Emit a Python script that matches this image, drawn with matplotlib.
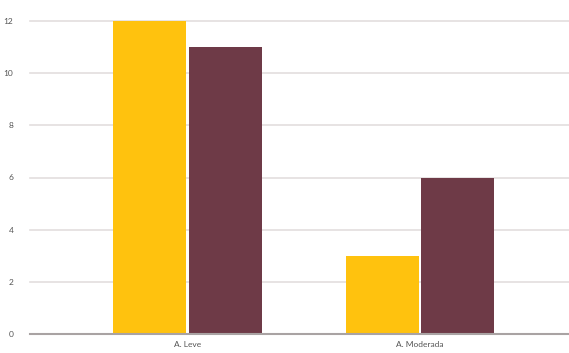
import numpy as np
import matplotlib.pyplot as plt

# Data
categories = ["A. Leve", "A. Moderada"]
serie_a = [12, 3]
serie_b = [11, 6]
yticks = [0, 2, 4, 6, 8, 10, 12]

plt.rcParams['font.family'] = ['Lato', 'DejaVu Sans']

fig = plt.figure(figsize=(5.69, 3.53), dpi=100)
ax = fig.add_axes([30 / 569, 19 / 353, 539 / 569, 313 / 353])

x = np.arange(len(categories))
w = 0.314
ax.bar(x - w / 2 - 0.006, serie_a, width=w, color="#FFC20E", zorder=3)
ax.bar(x + w / 2 + 0.006, serie_b, width=w, color="#6E3A47", zorder=3)

ax.set_xlim(-0.677, 1.641)
ax.set_ylim(0, 12)
ax.set_yticks(yticks)
ax.set_xticks(x)
ax.set_xticklabels(categories)

ax.grid(axis="y", color="#e3dede", linewidth=1.2, zorder=0)
for s in ["top", "right", "left"]:
    ax.spines[s].set_visible(False)
ax.spines["bottom"].set_color("#a9a3a3")
ax.spines["bottom"].set_linewidth(1.5)
ax.spines["bottom"].set_zorder(4)
for gl in ax.get_ygridlines():
    gl.set_clip_on(False)

ax.tick_params(axis="both", length=0, labelsize=6, labelcolor="#555555")
ax.tick_params(axis="y", pad=12)
ax.tick_params(axis="x", pad=5)

fig.savefig("out.png", dpi=100)
